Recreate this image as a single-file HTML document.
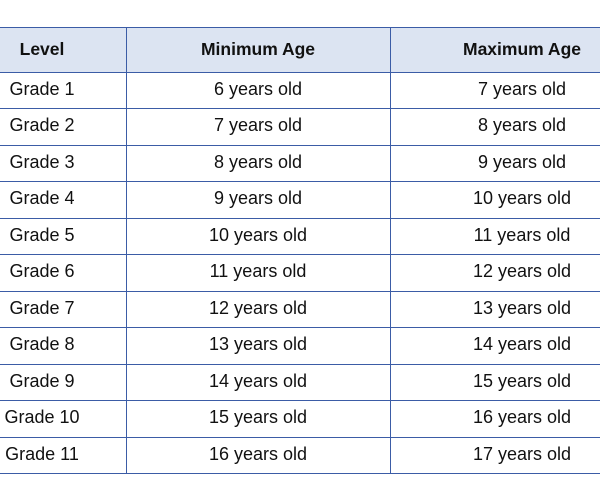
<!DOCTYPE html>
<html><head><style>
body{margin:0;width:600px;height:491px;background:#fff;position:relative;overflow:hidden;font-family:"Liberation Sans",sans-serif;color:#111}
.hl{position:absolute;left:0;width:600px;height:1px;background:#3b5ca6}
.vl{position:absolute;top:27px;height:447px;width:1px;background:#3b5ca6}
.hdr{position:absolute;left:0;top:28px;width:600px;height:44px;background:#dce4f2}
.t{position:absolute;width:200px;text-align:center;font-size:18px;transform:translateX(-100px);white-space:nowrap}
.h{font-weight:bold;font-size:17.5px}
</style></head><body>
<div class="hdr"></div>
<div class="hl" style="top:27px"></div>
<div class="hl" style="top:72px"></div>
<div class="hl" style="top:108px"></div>
<div class="hl" style="top:145px"></div>
<div class="hl" style="top:181px"></div>
<div class="hl" style="top:218px"></div>
<div class="hl" style="top:254px"></div>
<div class="hl" style="top:291px"></div>
<div class="hl" style="top:327px"></div>
<div class="hl" style="top:364px"></div>
<div class="hl" style="top:400px"></div>
<div class="hl" style="top:437px"></div>
<div class="hl" style="top:473px"></div>
<div class="vl" style="left:126px"></div>
<div class="vl" style="left:390px"></div>
<div class="t h" style="left:42px;top:39px">Level</div>
<div class="t h" style="left:258px;top:39px">Minimum Age</div>
<div class="t h" style="left:522px;top:39px">Maximum Age</div>
<div id="rows"></div>
<script>
var r=document.getElementById('rows'),tops=[72,108,145,181,218,254,291,327,364,400,437],h='';
for(var i=0;i<11;i++){var y=tops[i]+7;
h+='<div class="t" style="left:42px;top:'+y+'px">Grade '+(i+1)+'</div>';
h+='<div class="t" style="left:258px;top:'+y+'px">'+(i+6)+' years old</div>';
h+='<div class="t" style="left:522px;top:'+y+'px">'+(i+7)+' years old</div>';}
r.innerHTML=h;
</script>
</body></html>
